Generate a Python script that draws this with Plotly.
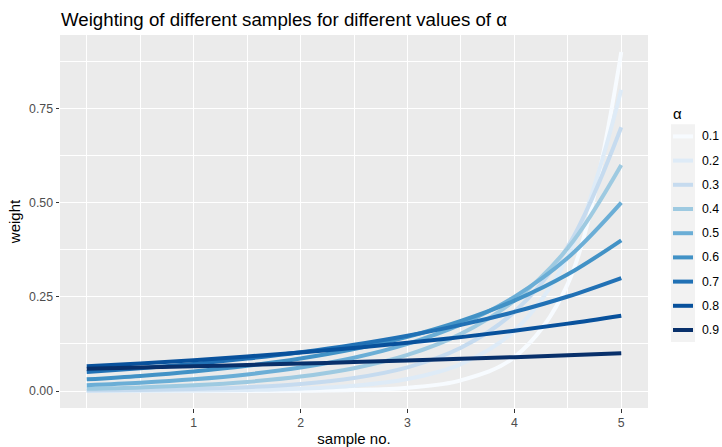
import plotly.graph_objects as go

# sample positions along the x axis
sample_no = [0.0, 0.5, 1.0, 1.5, 2.0, 2.5, 3.0, 3.5, 4.0, 4.5, 5.0]

alpha_labels = ["0.1", "0.2", "0.3", "0.4", "0.5", "0.6", "0.7", "0.8", "0.9"]

# weight of each sample, one list per alpha
w_01 = [0.0000, 0.0000, 0.0001, 0.0003, 0.0009, 0.0028, 0.0090, 0.0285, 0.0900, 0.2846, 0.9000]
w_02 = [0.0003, 0.0006, 0.0013, 0.0029, 0.0064, 0.0143, 0.0320, 0.0716, 0.1600, 0.3578, 0.8000]
w_03 = [0.0017, 0.0031, 0.0057, 0.0104, 0.0189, 0.0345, 0.0630, 0.1150, 0.2100, 0.3834, 0.7000]
w_04 = [0.0061, 0.0097, 0.0154, 0.0243, 0.0384, 0.0607, 0.0960, 0.1518, 0.2400, 0.3795, 0.6000]
w_05 = [0.0156, 0.0221, 0.0313, 0.0442, 0.0625, 0.0884, 0.1250, 0.1768, 0.2500, 0.3536, 0.5000]
w_06 = [0.0311, 0.0402, 0.0518, 0.0669, 0.0864, 0.1115, 0.1440, 0.1859, 0.2400, 0.3098, 0.4000]
w_07 = [0.0504, 0.0603, 0.0720, 0.0861, 0.1029, 0.1230, 0.1470, 0.1757, 0.2100, 0.2510, 0.3000]
w_08 = [0.0655, 0.0733, 0.0819, 0.0916, 0.1024, 0.1145, 0.1280, 0.1431, 0.1600, 0.1789, 0.2000]
w_09 = [0.0590, 0.0622, 0.0656, 0.0692, 0.0729, 0.0768, 0.0810, 0.0854, 0.0900, 0.0949, 0.1000]

weights = [w_01, w_02, w_03, w_04, w_05, w_06, w_07, w_08, w_09]

colors = ["#F7FBFF", "#DEEBF7", "#C6DBEF", "#9ECAE1", "#6BAED6",
          "#4292C6", "#2171B5", "#08519C", "#08306B"]

x_ticks = [1, 2, 3, 4, 5]
y_ticks = [0.0, 0.25, 0.5, 0.75]
y_tick_text = ["0.00", "0.25", "0.50", "0.75"]

W, H = 722, 447
PL, PR, PT, PB = 60, 648, 35, 408


def px_x(p):
    return (p - PL) / (PR - PL)


def px_y(p):
    return (PB - p) / (PB - PT)


FONT = "Liberation Sans, Arial, sans-serif"
SMALL = 12.3
MEDIUM = 15

fig = go.Figure()
for lab, w, c in zip(alpha_labels, weights, colors):
    fig.add_trace(go.Scatter(
        x=sample_no, y=w, mode="lines", name=lab,
        line=dict(color=c, width=4, shape="spline"),
        showlegend=False,
    ))

# legend (ggplot-style keys on a grey strip)
shapes = []
annotations = []
key_top, key_h = 124.3, 24.2
shapes.append(dict(type="rect", xref="paper", yref="paper",
                   x0=px_x(671), x1=px_x(695),
                   y0=px_y(key_top), y1=px_y(key_top + key_h * len(alpha_labels)),
                   fillcolor="#F2F2F2", line=dict(width=0), layer="below"))
for i, (lab, c) in enumerate(zip(alpha_labels, colors)):
    cy = key_top + key_h * (i + 0.5)
    shapes.append(dict(type="line", xref="paper", yref="paper",
                       x0=px_x(673), x1=px_x(693), y0=px_y(cy), y1=px_y(cy),
                       line=dict(color=c, width=4)))
    annotations.append(dict(text=lab, xref="paper", yref="paper",
                            x=px_x(700), y=px_y(cy), xanchor="left", yanchor="middle",
                            showarrow=False, font=dict(family=FONT, size=SMALL, color="#000000")))
annotations.append(dict(text="α", xref="paper", yref="paper",
                        x=px_x(671), y=px_y(113), xanchor="left", yanchor="middle",
                        showarrow=False, font=dict(family=FONT, size=MEDIUM, color="#000000")))

fig.update_layout(
    width=W, height=H,
    margin=dict(l=PL, r=W - PR, t=PT, b=H - PB, pad=0),
    paper_bgcolor="white",
    plot_bgcolor="#EBEBEB",
    title=dict(text="Weighting of different samples for different values of α",
               x=61 / W, xref="container", xanchor="left",
               y=1 - 19 / H, yref="container", yanchor="middle",
               font=dict(family=FONT, size=18.7, color="#000000")),
    font=dict(family=FONT),
    shapes=shapes,
    annotations=annotations,
    xaxis=dict(
        range=[-0.25, 5.25], tickmode="array", tickvals=x_ticks,
        ticktext=[str(v) for v in x_ticks],
        showgrid=True, gridcolor="white", gridwidth=1.4,
        minor=dict(tickmode="array", tickvals=[0, 0.5, 1.5, 2.5, 3.5, 4.5],
                   showgrid=True, gridcolor="white", gridwidth=0.7, ticks=""),
        zeroline=False, showline=False,
        ticks="outside", ticklen=3.5, tickwidth=1, tickcolor="#333333",
        tickfont=dict(family=FONT, size=SMALL, color="#4D4D4D"),
        title=dict(text="sample no.", standoff=7,
                   font=dict(family=FONT, size=MEDIUM, color="#000000")),
        automargin=False,
    ),
    yaxis=dict(
        range=[-0.045, 0.945], tickmode="array", tickvals=y_ticks, ticktext=y_tick_text,
        showgrid=True, gridcolor="white", gridwidth=1.4,
        minor=dict(tickmode="array", tickvals=[0.125, 0.375, 0.625, 0.875],
                   showgrid=True, gridcolor="white", gridwidth=0.7, ticks=""),
        zeroline=False, showline=False,
        ticks="outside", ticklen=3.5, tickwidth=1, tickcolor="#333333",
        tickfont=dict(family=FONT, size=SMALL, color="#4D4D4D"),
        title=dict(text="weight", standoff=4,
                   font=dict(family=FONT, size=MEDIUM, color="#000000")),
        automargin=False,
    ),
)

fig.write_html("out.html")
